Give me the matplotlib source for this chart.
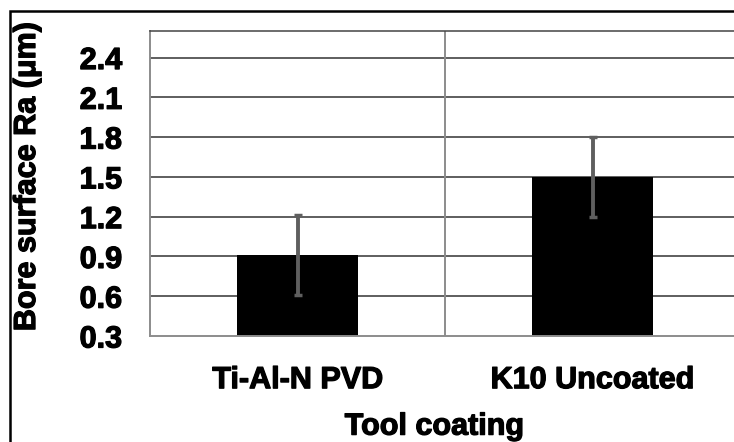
import numpy as np
import matplotlib
matplotlib.use('Agg')
import matplotlib.pyplot as plt
import matplotlib.patheffects as pe
from matplotlib.patches import Rectangle

plt.rcParams['font.family'] = ['Liberation Sans', 'DejaVu Sans']

categories = ['Ti-Al-N PVD', 'K10 Uncoated']
ra_mean = [0.91, 1.50]
ra_err = [0.30, 0.30]
y_ticks = [0.3, 0.6, 0.9, 1.2, 1.5, 1.8, 2.1, 2.4]

fig = plt.figure(figsize=(7.34, 4.42), dpi=100)
ax = fig.add_axes([150 / 734, 1 - 336 / 442, 590 / 734, 305 / 442])

x = np.arange(len(categories))
ax.set_xlim(-0.5, 1.5)
ax.set_ylim(0.3, 2.6)

# grid first so bars sit on top
for yv in y_ticks[1:]:
    ax.axhline(yv, color='#333333', lw=1.1, zorder=1)
ax.axvline(0.5, color='#8c8c8c', lw=1.4, zorder=1)

ax.bar(x, ra_mean, width=0.41, bottom=0, color='black', zorder=2)
ax.errorbar(x, ra_mean, yerr=ra_err, fmt='none', ecolor='#5f5f5f',
            elinewidth=2.8, capsize=3, capthick=2.5, zorder=3)

ax.spines['top'].set_color('#444444')
ax.spines['top'].set_linewidth(1.1)
ax.spines['right'].set_visible(False)
ax.spines['left'].set_color('#8c8c8c')
ax.spines['left'].set_linewidth(1.4)
ax.spines['bottom'].set_color('#8c8c8c')
ax.spines['bottom'].set_linewidth(1.4)

ax.set_yticks(y_ticks)
ax.set_yticklabels([f'{v:.1f}' for v in y_ticks], fontsize=22, fontweight='bold')
ax.set_xticks(x)
ax.set_xticklabels(categories, fontsize=22, fontweight='bold')
ax.tick_params(axis='y', length=0, pad=20)
ax.tick_params(axis='x', length=0, pad=21)

ax.set_xlabel('Tool coating', fontsize=22, fontweight='bold')
ax.xaxis.set_label_coords(0.482, -0.248)
ax.set_ylabel('Bore surface Ra (\u03bcm)', fontsize=22, fontweight='bold')
ax.yaxis.set_label_coords(-0.183, 0.522)

# heavier strokes, the original uses a black-weight face
heavy = [pe.withStroke(linewidth=0.9, foreground='black')]
for t in ax.get_xticklabels() + ax.get_yticklabels() + [ax.xaxis.label, ax.yaxis.label]:
    t.set_path_effects(heavy)

# outer chart frame, cut off at right and bottom
fig.patches.append(Rectangle((10 / 734, -0.1), 1.2, 1 - 11 / 442 + 0.1,
                             transform=fig.transFigure, fill=False,
                             edgecolor='black', lw=1.8))

fig.savefig('out.png', dpi=100)
